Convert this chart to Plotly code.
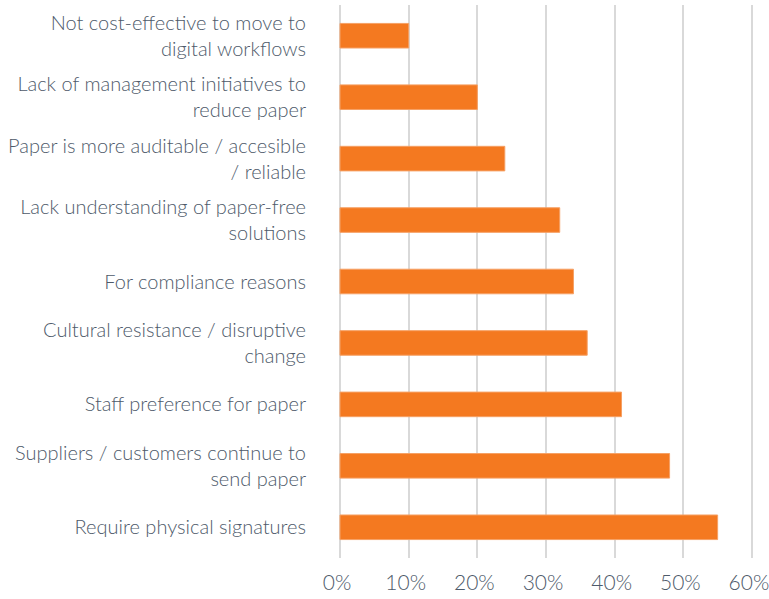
import plotly.graph_objects as go

categories = [
    "Not cost-effective to move to<br>digital workflows",
    "Lack of management initiatives to<br>reduce paper",
    "Paper is more auditable / accesible<br>/ reliable",
    "Lack understanding of paper-free<br>solutions",
    "For compliance reasons",
    "Cultural resistance / disruptive<br>change",
    "Staff preference for paper",
    "Suppliers / customers continue to<br>send paper",
    "Require physical signatures",
]
values = [0.10, 0.20, 0.24, 0.32, 0.34, 0.36, 0.41, 0.48, 0.55]
x_ticks = [0, 0.1, 0.2, 0.3, 0.4, 0.5, 0.6]

text_color = "#4E5A6A"
font = dict(family="Lato", size=20, color=text_color, weight=300)

fig = go.Figure(
    go.Bar(
        x=values,
        y=categories,
        orientation="h",
        marker=dict(color="#F47920", line=dict(width=1, color="#F6A064")),
        width=0.4,
    )
)

fig.update_layout(
    width=769,
    height=599,
    margin=dict(l=339, r=16, t=5, b=41),
    paper_bgcolor="white",
    plot_bgcolor="white",
    font=font,
    showlegend=False,
    xaxis=dict(
        range=[-0.0015, 0.6015],
        tickvals=x_ticks,
        tickformat=".0%",
        showgrid=True,
        gridcolor="#D9D9D9",
        gridwidth=2,
        zeroline=False,
        showline=False,
        ticks="",
        ticklabelstandoff=10,
        ticklabelshift=-3,
        ticklabeloverflow="allow",
        automargin=False,
        tickfont=dict(family="Lato", size=21, color=text_color, weight=300),
        fixedrange=True,
    ),
    yaxis=dict(
        autorange="reversed",
        showgrid=False,
        zeroline=False,
        showline=False,
        ticks="",
        ticklabelstandoff=32,
        automargin=False,
        tickfont=font,
        fixedrange=True,
    ),
)

fig.write_html(
    "out.html",
    config={"displayModeBar": False},
    post_script="document.body.style.margin='0';document.body.style.overflow='hidden';",
)
